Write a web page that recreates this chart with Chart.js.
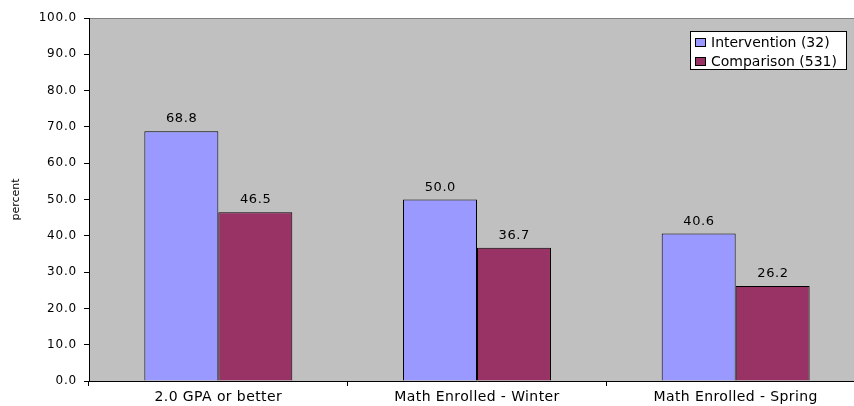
<!DOCTYPE html>
<html>
<head>
<meta charset="utf-8">
<script src="https://cdn.jsdelivr.net/npm/chart.js@4.4.1/dist/chart.umd.min.js"></script>
<style>
  html, body { margin: 0; padding: 0; background: #ffffff; overflow: hidden; }
  #wrap { width: 854px; height: 406px; overflow: hidden; position: relative; }
  canvas { display: block; }
</style>
</head>
<body>
<div id="wrap"><canvas id="c" width="866" height="406"></canvas></div>
<script>
// Outcome categories and the share (percent) of each group meeting them
const categories = ['2.0 GPA or better', 'Math Enrolled - Winter', 'Math Enrolled - Spring'];
const seriesNames = ['Intervention (32)', 'Comparison (531)'];
const intervention = [68.8, 50.0, 40.6];
const comparison = [46.5, 36.7, 26.2];
const yTicks = [0, 10, 20, 30, 40, 50, 60, 70, 80, 90, 100];

const colors = ['#9999FF', '#993366'];
const FONT = 'DejaVu Sans, Verdana, sans-serif';

// Wrap a scale's label drawing so its tick text gets a little letter spacing
function spacedLabels(px) {
  return function (scale) {
    if (scale._spacedLabels) return;
    const orig = scale.drawLabels;
    scale.drawLabels = function (area) {
      const c = this.ctx;
      c.save();
      c.letterSpacing = px + 'px';
      orig.call(this, area);
      c.restore();
    };
    scale._spacedLabels = true;
  };
}

// Grey plot background plus the thin frame along the top edge
const plotBackground = {
  id: 'plotBackground',
  beforeDraw(chart) {
    const { ctx, chartArea: a } = chart;
    ctx.save();
    ctx.fillStyle = '#C0C0C0';
    ctx.fillRect(a.left, a.top, a.right - a.left, a.bottom - a.top);
    ctx.strokeStyle = '#808080';
    ctx.lineWidth = 1;
    ctx.beginPath();
    ctx.moveTo(a.left, Math.round(a.top) + 0.5);
    ctx.lineTo(a.right, Math.round(a.top) + 0.5);
    ctx.stroke();
    ctx.restore();
  }
};

// Value printed above every bar
const valueLabels = {
  id: 'valueLabels',
  afterDatasetsDraw(chart) {
    const { ctx } = chart;
    ctx.save();
    ctx.font = '13px ' + FONT;
    ctx.letterSpacing = '0.6px';
    ctx.fillStyle = '#000000';
    ctx.textAlign = 'center';
    ctx.textBaseline = 'alphabetic';
    chart.data.datasets.forEach((ds, i) => {
      chart.getDatasetMeta(i).data.forEach((bar, j) => {
        ctx.fillText(ds.data[j].toFixed(1), bar.x + 0.3, bar.y - 9);
      });
    });
    ctx.restore();
  }
};

// Boxed legend sitting inside the plot, top right
const boxLegend = {
  id: 'boxLegend',
  afterDraw(chart) {
    const { ctx } = chart;
    const x = 690, y = 31, w = 156, h = 38;
    ctx.save();
    ctx.fillStyle = '#ffffff';
    ctx.fillRect(x, y, w, h);
    ctx.strokeStyle = '#000000';
    ctx.lineWidth = 1;
    ctx.strokeRect(x + 0.5, y + 0.5, w, h);
    ctx.font = '14px ' + FONT;
    ctx.textAlign = 'left';
    ctx.textBaseline = 'middle';
    chart.data.datasets.forEach((ds, i) => {
      const rowY = y + 11 + i * 19;
      ctx.fillStyle = ds.backgroundColor;
      ctx.fillRect(x + 5, rowY - 4, 11, 9);
      ctx.strokeStyle = '#000000';
      ctx.strokeRect(x + 5.5, rowY - 3.5, 10, 8);
      ctx.fillStyle = '#000000';
      ctx.fillText(ds.label, x + 21, rowY + 1);
    });
    ctx.restore();
  }
};

new Chart(document.getElementById('c'), {
  type: 'bar',
  data: {
    labels: categories,
    datasets: [
      { label: seriesNames[0], data: intervention, backgroundColor: colors[0], borderColor: '#000000', borderWidth: 1 },
      { label: seriesNames[1], data: comparison, backgroundColor: colors[1], borderColor: '#000000', borderWidth: 1 }
    ]
  },
  options: {
    responsive: false,
    animation: false,
    devicePixelRatio: 1,
    layout: { padding: { top: 18, right: 1, bottom: 0, left: 0 } },
    datasets: { bar: { categoryPercentage: 0.572, barPercentage: 1.0 } },
    plugins: {
      legend: { display: false },
      tooltip: { enabled: false }
    },
    scales: {
      x: {
        afterFit(scale) { scale.height = 25; spacedLabels(0.4)(scale); },
        grid: { offset: true, drawOnChartArea: false, drawTicks: true, tickLength: 5, color: '#000000' },
        border: { display: true, color: '#000000', width: 1 },
        ticks: { color: '#000000', font: { family: FONT, size: 14 }, padding: 3, maxRotation: 0, autoSkip: false }
      },
      y: {
        min: 0,
        max: 100,
        afterFit(scale) { scale.width = 89; spacedLabels(0.8)(scale); },
        afterBuildTicks(scale) { scale.ticks = yTicks.map(v => ({ value: v })); },
        grid: { drawOnChartArea: false, drawTicks: true, tickLength: 5, color: '#000000' },
        border: { display: true, color: '#000000', width: 1 },
        ticks: {
          color: '#000000',
          font: { family: FONT, size: 12 },
          padding: 7,
          callback: v => Number(v).toFixed(1)
        },
        title: {
          display: true,
          text: 'percent',
          color: '#000000',
          font: { family: FONT, size: 11 },
          padding: { top: 10, bottom: 0 }
        }
      }
    }
  },
  plugins: [plotBackground, valueLabels, boxLegend]
});
</script>
</body>
</html>
